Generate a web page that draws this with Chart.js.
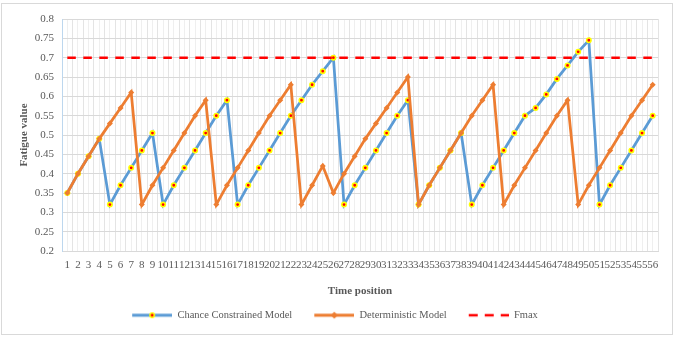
<!DOCTYPE html>
<html>
<head>
<meta charset="utf-8">
<title>Fatigue value</title>
<script src="https://cdn.jsdelivr.net/npm/chart.js@4.4.1/dist/chart.umd.min.js"></script>
<style>
  html, body { margin: 0; padding: 0; background: #fff; }
  #wrap { position: relative; width: 675px; height: 340px; }
  #frame { position: absolute; left: 1px; top: 3px; width: 670px; height: 330px;
           border: 1px solid #d9d9d9; pointer-events: none; }
</style>
</head>
<body>
<div id="wrap">
  <canvas id="fatigueChart" width="675" height="340"></canvas>
  <div id="frame"></div>
</div>
<script>
// time positions 1..56
const positions = ['1','2','3','4','5','6','7','8','9','10','11','12','13','14','15','16','17','18','19','20',
  '21','22','23','24','25','26','27','28','29','30','31','32','33','34','35','36','37','38','39','40',
  '41','42','43','44','45','46','47','48','49','50','51','52','53','54','55','56'];

// values
const chanceConstrained = [0.35, 0.40, 0.445, 0.49, 0.32, 0.37, 0.415, 0.46, 0.505, 0.32,
  0.37, 0.415, 0.46, 0.505, 0.55, 0.59, 0.32, 0.37, 0.415, 0.46,
  0.505, 0.55, 0.59, 0.63, 0.665, 0.70, 0.32, 0.37, 0.415, 0.46,
  0.505, 0.55, 0.59, 0.32, 0.37, 0.415, 0.46, 0.505, 0.32, 0.37,
  0.415, 0.46, 0.505, 0.55, 0.57, 0.605, 0.645, 0.68, 0.715, 0.745,
  0.32, 0.37, 0.415, 0.46, 0.505, 0.55];

const deterministic = [0.35, 0.40, 0.445, 0.49, 0.53, 0.57, 0.61, 0.32, 0.37, 0.415,
  0.46, 0.505, 0.55, 0.59, 0.32, 0.37, 0.415, 0.46, 0.505, 0.55,
  0.59, 0.63, 0.32, 0.37, 0.42, 0.35, 0.40, 0.445, 0.49, 0.53,
  0.57, 0.61, 0.65, 0.32, 0.37, 0.415, 0.46, 0.505, 0.55, 0.59,
  0.63, 0.32, 0.37, 0.415, 0.46, 0.505, 0.55, 0.59, 0.32, 0.37,
  0.415, 0.46, 0.505, 0.55, 0.59, 0.63];

const fmax = positions.map(() => 0.7);

const yTickValues = [0.2, 0.25, 0.3, 0.35, 0.4, 0.45, 0.5, 0.55, 0.6, 0.65, 0.7, 0.75, 0.8];
const yTickLabels = ['0.2','0.25','0.3','0.35','0.4','0.45','0.5','0.55','0.6','0.65','0.7','0.75','0.8'];

const seriesNames = ['Chance Constrained Model', 'Deterministic Model', 'Fmax'];

const BLUE = '#5b9bd5';
const ORANGE = '#ed7d31';
const RED = '#ff0000';
const TEXT = '#595959';
const FONT = "'Liberation Serif', 'Times New Roman', serif";

// small images used as legend symbols (line with marker)
function legendImg(drawFn) {
    const c = document.createElement('canvas');
    c.width = 52;
    c.height = 12;
    const g = c.getContext('2d');
    drawFn(g);
    return c;
}

const blueIcon = legendImg(function(g) {
    g.strokeStyle = BLUE; g.lineWidth = 3;
    g.beginPath(); g.moveTo(12, 6); g.lineTo(52, 6); g.stroke();
    g.beginPath(); g.arc(32, 6, 2.2, 0, Math.PI * 2);
    g.fillStyle = RED; g.fill();
    g.strokeStyle = '#ffff00'; g.lineWidth = 1.5; g.stroke();
});

const orangeIcon = legendImg(function(g) {
    g.strokeStyle = ORANGE; g.lineWidth = 3;
    g.beginPath(); g.moveTo(12, 6); g.lineTo(52, 6); g.stroke();
    g.beginPath(); g.moveTo(32, 2.5); g.lineTo(35.5, 6); g.lineTo(32, 9.5); g.lineTo(28.5, 6); g.closePath();
    g.fillStyle = ORANGE; g.fill();
});

const fmaxIcon = legendImg(function(g) {
    g.strokeStyle = RED; g.lineWidth = 2.5;
    g.setLineDash([9, 7]);
    g.beginPath(); g.moveTo(12, 6); g.lineTo(52, 6); g.stroke();
});

const icons = [blueIcon, orangeIcon, fmaxIcon];

const ctx = document.getElementById('fatigueChart').getContext('2d');

const chart = new Chart(ctx, {
    type: 'line',
    data: {
        labels: positions,
        datasets: [{
            label: seriesNames[0],
            data: chanceConstrained,
            borderColor: BLUE,
            borderWidth: 2.75,
            pointStyle: 'circle',
            pointRadius: 2.2,
            pointBorderWidth: 1.6,
            pointBackgroundColor: RED,
            pointBorderColor: '#ffff00',
            tension: 0,
            order: 3
        }, {
            label: seriesNames[1],
            data: deterministic,
            borderColor: ORANGE,
            borderWidth: 2.75,
            pointStyle: 'rectRot',
            pointRadius: 3,
            pointBorderWidth: 0,
            pointBackgroundColor: ORANGE,
            pointBorderColor: ORANGE,
            tension: 0,
            order: 2
        }, {
            label: seriesNames[2],
            data: fmax,
            borderColor: RED,
            borderWidth: 2.5,
            borderDash: [8.5, 7.5],
            pointRadius: 0,
            tension: 0,
            order: 1
        }]
    },
    options: {
        responsive: false,
        animation: false,
        events: [],
        layout: {
            padding: { left: 0, right: 17, top: 19, bottom: 9.5 }
        },
        plugins: {
            tooltip: { enabled: false },
            legend: {
                position: 'bottom',
                labels: {
                    usePointStyle: true,
                    pointStyleWidth: 52,
                    padding: 10,
                    color: TEXT,
                    font: { family: FONT, size: 10.5 },
                    generateLabels: function() {
                        return seriesNames.map((name, i) => ({
                            text: name,
                            pointStyle: icons[i],
                            fillStyle: 'transparent',
                            strokeStyle: 'transparent',
                            lineWidth: 0,
                            fontColor: TEXT,
                            hidden: false,
                            datasetIndex: i
                        }));
                    }
                }
            }
        },
        scales: {
            x: {
                offset: true,
                grid: { color: '#e4e4e4', lineWidth: 1, drawTicks: false, offset: true },
                border: { color: '#d9d9d9', width: 1 },
                ticks: {
                    autoSkip: false,
                    maxRotation: 0,
                    minRotation: 0,
                    padding: 8,
                    color: TEXT,
                    font: { family: FONT, size: 11 }
                },
                title: {
                    display: true,
                    text: 'Time position',
                    color: TEXT,
                    font: { family: FONT, size: 11, weight: 'bold' },
                    padding: { top: 0, bottom: 2 }
                },
                afterFit: function(scale) { scale.height = 49; }
            },
            xc: {
                type: 'category',
                labels: positions,
                offset: true,
                position: 'bottom',
                grid: { color: '#efefef', lineWidth: 1, drawTicks: false, offset: false },
                border: { display: false },
                ticks: { display: false },
                afterFit: function(scale) { scale.height = 0; }
            },
            y: {
                min: 0.2,
                max: 0.8,
                grid: { color: '#d9d9d9', lineWidth: 1, drawTicks: false },
                border: { color: '#bdd7ee', width: 1 },
                afterBuildTicks: function(scale) {
                    scale.ticks = yTickValues.map(v => ({ value: v }));
                },
                ticks: {
                    padding: 8,
                    color: TEXT,
                    font: { family: FONT, size: 11 },
                    callback: function(value, index) { return yTickLabels[index]; }
                },
                title: {
                    display: true,
                    text: 'Fatigue value',
                    color: TEXT,
                    font: { family: FONT, size: 11, weight: 'bold' },
                    padding: { top: 18, bottom: 0 }
                },
                afterFit: function(scale) { scale.width = 62; }
            }
        }
    }
});
</script>
</body>
</html>
